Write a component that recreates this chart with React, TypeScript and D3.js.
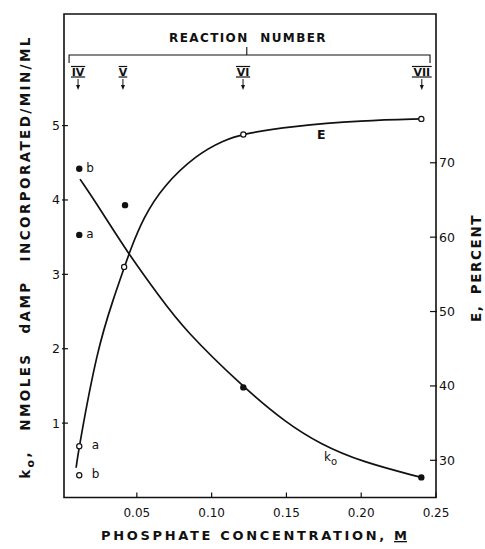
import React from "react";
import * as d3 from "d3";

// ---- data ----
const reactionLabels = ["IV", "V", "VI", "VII"];
const reactionConc = [0.0107, 0.0407, 0.121, 0.2405];

// k0 (left axis) measured points
const k0PointsX = [0.0115, 0.0115, 0.0421, 0.1212, 0.2402];
const k0PointsY = [4.42, 3.53, 3.93, 1.48, 0.27];
const k0PointTags = ["b", "a", "", "", ""];

// E (right axis) measured points
const ePointsX = [0.0115, 0.0115, 0.0415, 0.1212, 0.2402];
const ePointsY = [31.9, 28.0, 56.0, 73.8, 75.9];
const ePointTags = ["a", "b", "", "", ""];

// fitted curves
const k0CurveX = [0.012, 0.0254, 0.0432, 0.0655, 0.0816, 0.1212, 0.15, 0.1725, 0.2, 0.2402];
const k0CurveY = [4.28, 3.88, 3.31, 2.69, 2.26, 1.48, 1.0, 0.72, 0.48, 0.27];
const eCurveX = [0.0094, 0.0114, 0.0236, 0.0343, 0.0414, 0.0455, 0.0543, 0.0677, 0.09, 0.1078, 0.1212, 0.1524, 0.2014, 0.2402];
const eCurveY = [29.0, 31.9, 45.0, 51.7, 55.8, 58.2, 62.6, 66.9, 71.1, 73.0, 73.9, 74.9, 75.7, 75.9];

const xTicks = [0.05, 0.1, 0.15, 0.2, 0.25];
const xTickLabels = ["0.05", "0.10", "0.15", "0.20", "0.25"];
const leftTicks = [1, 2, 3, 4, 5];
const rightTicks = [30, 40, 50, 60, 70];

const W = 485, H = 549;
const L = 64, R = 436, T = 14, B = 497.5;
const FONT = "'DejaVu Sans', sans-serif";
const INK = "#111";

export default function App() {
  const x = d3.scaleLinear().domain([0.0013, 0.25]).range([L, R]);
  const yL = d3.scaleLinear().domain([0, 6.5]).range([B, T]);
  const yR = d3.scaleLinear().domain([25, 90]).range([B, T]);

  const k0Line = d3
    .line<number>()
    .x((_, i) => x(k0CurveX[i]))
    .y((d) => yL(d))
    .curve(d3.curveBasis);
  const eLine = d3
    .line<number>()
    .x((_, i) => x(eCurveX[i]))
    .y((d) => yR(d))
    .curve(d3.curveBasis);

  const bracketL = x(0.0047);
  const bracketR = x(0.246);
  const bracketC = x(0.1235);

  return (
    <svg
      width={W}
      height={H}
      style={{ position: "absolute", left: 0, top: 0, background: "#fff" }}
      fontFamily={FONT}
    >
      <rect x={0} y={0} width={W} height={H} fill="#fff" />
      {/* frame */}
      <path
        d={`M${L},${T} L${R},${T} L${R},${B} L${L},${B} Z`}
        fill="none"
        stroke={INK}
        strokeWidth={1.6}
      />

      {/* x ticks */}
      {xTicks.map((t, i) => (
        <g key={"xt" + i}>
          <line x1={x(t)} x2={x(t)} y1={B} y2={B - 5} stroke={INK} strokeWidth={1.2} />
          <text x={x(t)} y={517} fontSize={12} textAnchor="middle" fill={INK}>
            {xTickLabels[i]}
          </text>
        </g>
      ))}
      {/* left ticks */}
      {leftTicks.map((t) => (
        <g key={"lt" + t}>
          <line x1={L - 2} x2={L + 4} y1={yL(t)} y2={yL(t)} stroke={INK} strokeWidth={1.2} />
          <text x={60} y={yL(t) + 4.5} fontSize={12.5} textAnchor="end" fill={INK}>
            {t}
          </text>
        </g>
      ))}
      {/* right ticks */}
      {rightTicks.map((t) => (
        <g key={"rt" + t}>
          <line x1={R - 6} x2={R + 1} y1={yR(t)} y2={yR(t)} stroke={INK} strokeWidth={1.2} />
          <text x={439} y={yR(t) + 4.5} fontSize={12.5} textAnchor="start" fill={INK}>
            {t}
          </text>
        </g>
      ))}

      {/* axis titles */}
      <text
        x={254}
        y={540}
        fontSize={13}
        fontWeight="bold"
        textAnchor="middle"
        fill={INK}
        textLength={306}
        lengthAdjust="spacing"
      >
        PHOSPHATE CONCENTRATION,{"  "}
        <tspan style={{ textDecoration: "underline" }}>M</tspan>
      </text>
      <text
        transform="translate(30,257) rotate(-90)"
        fontSize={13.5}
        fontWeight="bold"
        textAnchor="middle"
        fill={INK}
        letterSpacing={2.4}
        wordSpacing={12}
      >
        k<tspan fontSize={11} dy={4}>o</tspan>
        <tspan dy={-4}>, NMOLES dAMP INCORPORATED/MIN/ML</tspan>
      </text>
      <text
        transform="translate(481,268) rotate(-90)"
        fontSize={13.5}
        fontWeight="bold"
        textAnchor="middle"
        fill={INK}
        letterSpacing={1.6}
        wordSpacing={4}
      >
        E,  PERCENT
      </text>

      {/* reaction number bracket */}
      <text
        x={248}
        y={42}
        fontSize={12}
        fontWeight="bold"
        textAnchor="middle"
        fill={INK}
        letterSpacing={1.4}
        wordSpacing={6}
      >
        REACTION  NUMBER
      </text>
      <path
        d={`M${bracketL},63 L${bracketL},55 L${bracketR},55 L${bracketR},63 M${bracketC},55 L${bracketC},47`}
        fill="none"
        stroke={INK}
        strokeWidth={1.1}
      />
      {reactionLabels.map((lab, i) => {
        const cx = x(reactionConc[i]);
        const w = lab.length * 5.6 + 3;
        return (
          <g key={"rx" + i}>
            <text x={cx} y={76} fontSize={11} fontWeight="bold" textAnchor="middle" fill={INK}>
              {lab}
            </text>
            <line x1={cx - w / 2} x2={cx + w / 2} y1={66.5} y2={66.5} stroke={INK} strokeWidth={1.2} />
            <line x1={cx - w / 2} x2={cx + w / 2} y1={77} y2={77} stroke={INK} strokeWidth={1.2} />
            <line x1={cx} x2={cx} y1={79} y2={86} stroke={INK} strokeWidth={1} />
            <path d={`M${cx - 2},85 L${cx + 2},85 L${cx},90 Z`} fill={INK} />
          </g>
        );
      })}

      {/* curves */}
      <path d={k0Line(k0CurveY) || ""} fill="none" stroke={INK} strokeWidth={1.7} />
      <path d={eLine(eCurveY) || ""} fill="none" stroke={INK} strokeWidth={1.7} />

      {/* k0 points */}
      {k0PointsY.map((v, i) => (
        <g key={"kp" + i}>
          <circle cx={x(k0PointsX[i])} cy={yL(v)} r={3.2} fill={INK} />
          {k0PointTags[i] && (
            <text x={x(k0PointsX[i]) + 7} y={yL(v) + 3.5} fontSize={12} fill={INK}>
              {k0PointTags[i]}
            </text>
          )}
        </g>
      ))}
      {/* E points */}
      {ePointsY.map((v, i) => (
        <g key={"ep" + i}>
          <circle cx={x(ePointsX[i])} cy={yR(v)} r={2.6} fill="#fff" stroke={INK} strokeWidth={1.2} />
          {ePointTags[i] && (
            <text x={x(ePointsX[i]) + 12.5} y={yR(v) + 3.2} fontSize={12} fill={INK}>
              {ePointTags[i]}
            </text>
          )}
        </g>
      ))}

      {/* curve labels */}
      <text x={317} y={139} fontSize={12.5} fontWeight="bold" fill={INK}>
        E
      </text>
      <text x={324} y={461} fontSize={12} fill={INK}>
        k<tspan fontSize={10} dy={4}>o</tspan>
      </text>
    </svg>
  );
}
